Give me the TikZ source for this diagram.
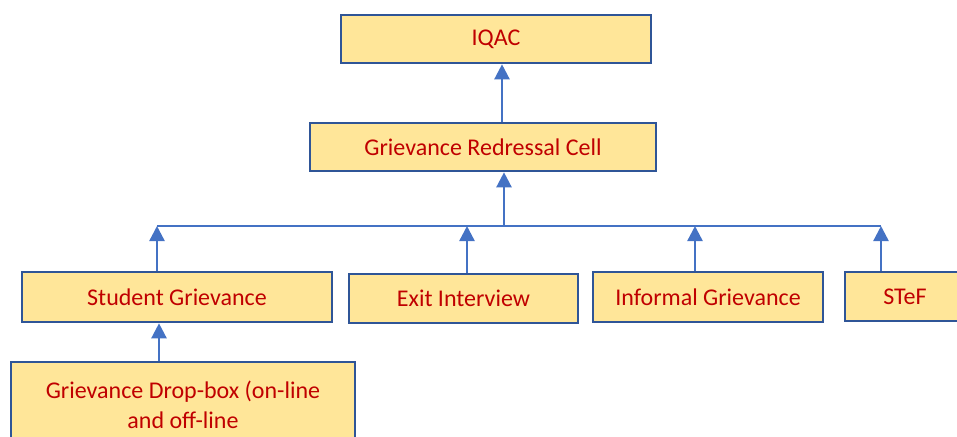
\documentclass[tikz,border=0pt]{standalone}
\usepackage{fontspec}
\setmainfont{Carlito}
\usepackage{xcolor}
\usetikzlibrary{arrows.meta, positioning}

\definecolor{boxfill}{HTML}{FFE699}
\definecolor{boxline}{HTML}{2F5597}
\definecolor{boxtext}{HTML}{C00000}
\definecolor{linkblue}{HTML}{4472C4}

\tikzset{
  cell/.style={draw=boxline, line width=1.3pt, fill=boxfill, text=boxtext,
    font=\fontsize{12}{15}\selectfont, inner sep=0pt, align=center},
  link/.style={draw=linkblue, line width=1.2pt},
  up/.style={link, -{Triangle[width=7.5pt,length=7.5pt]}}
}

\begin{document}
\begin{tikzpicture}[x=0.5pt, y=-0.5pt]
      \useasboundingbox (0,0) rectangle (957,436);
      \clip (0,0) rectangle (957,436);

      \node[cell, minimum width=155pt, minimum height=24pt] (iqac) at (496,39) {IQAC};
      \node[cell, minimum width=173pt, minimum height=24pt] (grc) at (483,147) {Grievance Redressal Cell};
      \node[cell, minimum width=155pt, minimum height=25pt] (sg) at (177,297) {Student Grievance};
      \node[cell, minimum width=114.5pt, minimum height=24.5pt] (exit) at (463.5,298.5) {Exit Interview};
      \node[cell, minimum width=115pt, minimum height=25pt] (inf) at (708,297) {Informal Grievance};
      \node[cell, minimum width=60pt, minimum height=24.5pt] (stef) at (905,296.5) {STeF};
      \node[cell, minimum width=172pt, minimum height=43pt] (drop) at (183,405) {Grievance Drop-box (on-line\\and off-line};

      % bus points
      \coordinate (bsg) at (157,226);
      \coordinate (bexit) at (467,226);
      \coordinate (bgrc) at (504,226);
      \coordinate (binf) at (695,226);
      \coordinate (bstef) at (881,226);

      \draw[link] (bsg) -- (bstef);

      \draw[up] (grc.north -| 502,0) -- (iqac.south -| 502,0);
      \draw[up] (bgrc) -- (grc.south -| bgrc);
      \draw[up] (sg.north -| bsg) -- (bsg);
      \draw[up] (exit.north -| bexit) -- (bexit);
      \draw[up] (inf.north -| binf) -- (binf);
      \draw[up] (stef.north -| bstef) -- (bstef);
      \draw[up] (drop.north -| 159,0) -- (sg.south -| 159,0);

    \end{tikzpicture}
\end{document}
